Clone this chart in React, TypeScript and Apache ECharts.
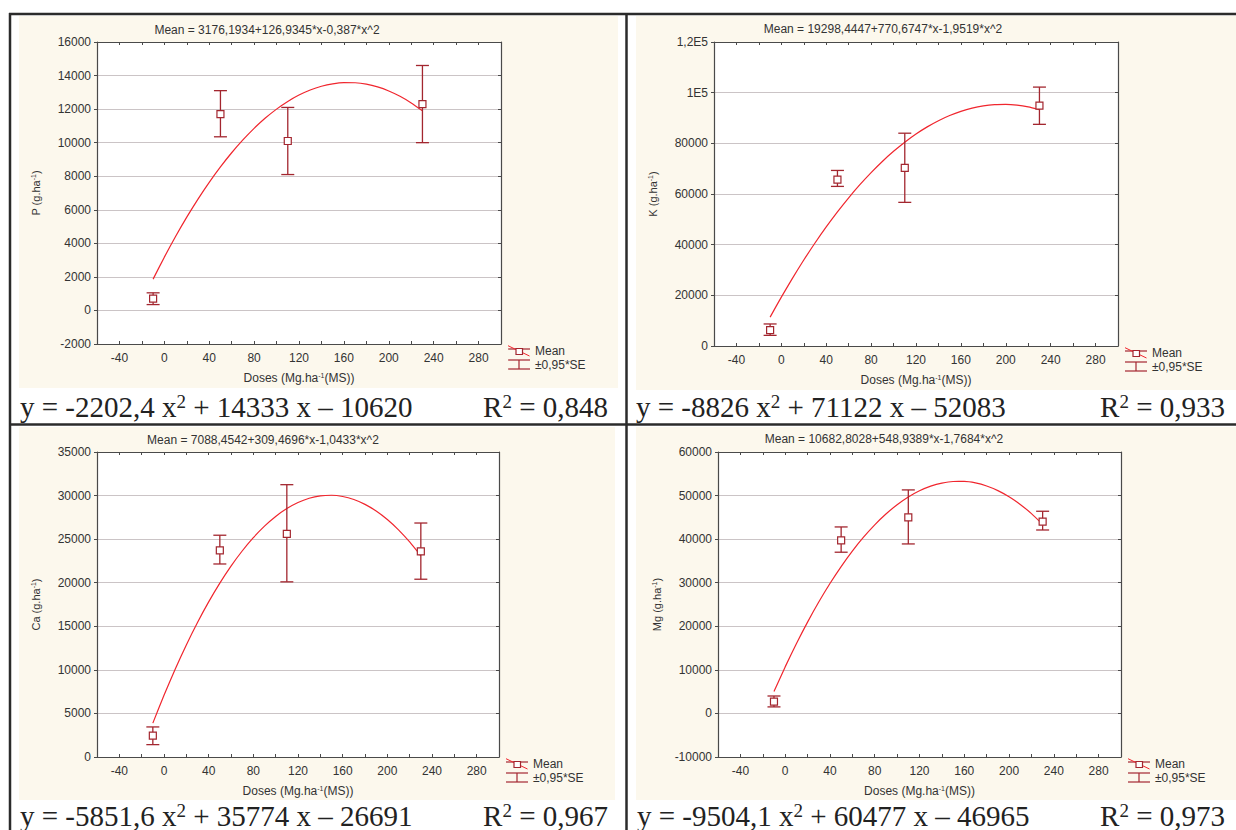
import React, { useEffect, useRef } from 'react';
import * as echarts from 'echarts';

// ---------- data ----------
const doses = [-10, 50, 110, 230];
const curveX = [-10, 0, 10, 20, 30, 40, 50, 60, 70, 80, 90, 100, 110, 120, 130, 140, 150, 160, 170, 180, 190, 200, 210, 220, 230];

const pMean = [700, 11700, 10100, 12300];
const pLow = [350, 10350, 8100, 10000];
const pHigh = [1050, 13100, 12100, 14600];
const pCurve = [1868, 3176, 4407, 5560, 6636, 7634, 8555, 9399, 10165, 10854, 11466, 12000, 12456, 12836, 13137, 13362, 13509, 13579, 13571, 13486, 13323, 13083, 12766, 12371, 11899];

const kMean = [6300, 65700, 70300, 94900];
const kLow = [4200, 63000, 56700, 87500];
const kHigh = [8700, 69300, 84000, 102200];
const kCurve = [11397, 19298, 26810, 33931, 40662, 47002, 52952, 58512, 63681, 68460, 72849, 76847, 80455, 83672, 86499, 88936, 90982, 92638, 93903, 94778, 95263, 95357, 95061, 94375, 93298];

const caMean = [2450, 23700, 25600, 23600];
const caLow = [1420, 22150, 20100, 20400];
const caHigh = [3450, 25450, 31250, 26850];
const caCurve = [3889, 7088, 10079, 12861, 15434, 17798, 19954, 21901, 23639, 25169, 26490, 27602, 28506, 29201, 29688, 29966, 30035, 29895, 29547, 28990, 28225, 27250, 26068, 24676, 23076];

const mgMean = [2700, 39700, 45000, 44000];
const mgLow = [1500, 37000, 38900, 42100];
const mgHigh = [4000, 42800, 51300, 46400];
const mgCurve = [5017, 10683, 15995, 20954, 25559, 29811, 33709, 37253, 40443, 43280, 45763, 47893, 49668, 51091, 52159, 52874, 53235, 53242, 52896, 52196, 51142, 49735, 47974, 45859, 43390];

const titles = [
  'Mean = 3176,1934+126,9345*x-0,387*x^2',
  'Mean = 19298,4447+770,6747*x-1,9519*x^2',
  'Mean = 7088,4542+309,4696*x-1,0433*x^2',
  'Mean = 10682,8028+548,9389*x-1,7684*x^2',
];
const yNames = ['P (g.ha{sup|-1})', 'K (g.ha{sup|-1})', 'Ca (g.ha{sup|-1})', 'Mg (g.ha{sup|-1})'];
const xName = 'Doses (Mg.ha{sup|-1}(MS))';
const equations = [
  'y = -2202,4 x{sup|2} + 14333 x – 10620',
  'y = -8826 x{sup|2} + 71122 x – 52083',
  'y = -5851,6 x{sup|2} + 35774 x – 26691',
  'y = -9504,1 x{sup|2} + 60477 x – 46965',
];
const r2Texts = ['R{sup|2} = 0,848', 'R{sup|2} = 0,933', 'R{sup|2} = 0,967', 'R{sup|2} = 0,973'];
const yRanges = [
  { min: -2000, max: 16000, interval: 2000 },
  { min: 0, max: 120000, interval: 20000 },
  { min: 0, max: 35000, interval: 5000 },
  { min: -10000, max: 60000, interval: 10000 },
];
const xRange = { min: -60, max: 300, interval: 20 };
const legendMean = 'Mean';
const legendSE = '±0,95*SE';

const means = [pMean, kMean, caMean, mgMean];
const lows = [pLow, kLow, caLow, mgLow];
const highs = [pHigh, kHigh, caHigh, mgHigh];
const curves = [pCurve, kCurve, caCurve, mgCurve];

// ---------- layout ----------
const layouts = [
  { left: 97, top: 42, width: 404, height: 302, titleX: 267, titleY: 29.5, eqX: 20, eqY: 392, r2X: 608, bg: [19, 16, 599, 372] },
  { left: 714, top: 42, width: 404, height: 304, titleX: 883, titleY: 29, eqX: 636, eqY: 392, r2X: 1225, bg: [636, 16, 600, 374] },
  { left: 97, top: 452, width: 402, height: 305, titleX: 263, titleY: 439.5, eqX: 20, eqY: 801, r2X: 608, bg: [19, 427, 596, 373] },
  { left: 718, top: 452, width: 403, height: 305, titleX: 884, titleY: 439, eqX: 637, eqY: 801, r2X: 1225, bg: [636, 427, 600, 373] },
];

const SANS = '"Liberation Sans", Arial, Helvetica, sans-serif';
const SERIF = '"Liberation Serif", "Times New Roman", serif';
const ERR = '#a3262f';
const CURVE = '#f0262e';
const BEIGE = '#fcf8ed';
const GRIDC = '#cbc4c6';
const AXIS = '#4a4a4a';
const TXT = '#333333';

function fmtY(i: number) {
  return (v: number) => {
    if (i === 1) {
      if (v === 100000) return '1E5';
      if (v === 120000) return '1,2E5';
    }
    return String(v);
  };
}

export default function App() {
  const ref = useRef<HTMLDivElement>(null);
  useEffect(() => {
    if (!ref.current) return;
    const chart = echarts.init(ref.current, undefined, { renderer: 'svg' });

    const grid: any[] = [];
    const xAxis: any[] = [];
    const yAxis: any[] = [];
    const series: any[] = [];
    const graphic: any[] = [];

    layouts.forEach((L, i) => {
      grid.push({
        left: L.left, top: L.top, width: L.width, height: L.height,
        show: true, backgroundColor: '#ffffff', borderWidth: 0,
        containLabel: false, outerBoundsMode: 'none',
      });
      xAxis.push({
        type: 'value', gridIndex: i, position: 'bottom',
        min: xRange.min, max: xRange.max, interval: xRange.interval,
        axisLine: { show: true, onZero: false, lineStyle: { color: AXIS, width: 1.2 } },
        axisTick: { show: true, inside: true, length: 3, lineStyle: { color: AXIS } },
        axisLabel: {
          show: true, margin: 8, color: TXT, fontSize: 12, fontFamily: SANS,
          formatter: (v: number) => (v % 40 === 0 ? String(v) : ''),
        },
        splitLine: { show: false },
        name: xName, nameLocation: 'middle', nameGap: 28,
        nameTextStyle: {
          color: TXT, fontSize: 12, fontFamily: SANS,
          rich: { sup: { fontSize: 7, fontFamily: SANS, color: TXT, verticalAlign: 'top' } },
        },
      });
      xAxis.push({
        type: 'value', gridIndex: i, position: 'top',
        min: xRange.min, max: xRange.max, interval: xRange.interval,
        axisLine: { show: true, onZero: false, lineStyle: { color: AXIS, width: 1.2 } },
        axisTick: { show: true, inside: true, length: 3, lineStyle: { color: AXIS } },
        axisLabel: { show: false },
        splitLine: { show: false },
      });
      const yr = yRanges[i];
      yAxis.push({
        type: 'value', gridIndex: i, position: 'left',
        min: yr.min, max: yr.max, interval: yr.interval,
        axisLine: { show: true, onZero: false, lineStyle: { color: AXIS, width: 1.2 } },
        axisTick: { show: true, inside: false, length: 3, lineStyle: { color: AXIS } },
        axisLabel: { show: true, margin: 6, color: TXT, fontSize: 12, fontFamily: SANS, formatter: fmtY(i) },
        splitLine: { show: true, lineStyle: { color: GRIDC, width: 1 } },
        name: yNames[i], nameLocation: 'middle', nameGap: 56, nameRotate: 90,
        nameTextStyle: {
          color: TXT, fontSize: 11, fontFamily: SANS,
          rich: { sup: { fontSize: 7, fontFamily: SANS, color: TXT, verticalAlign: 'top' } },
        },
      });
      yAxis.push({
        type: 'value', gridIndex: i, position: 'right',
        min: yr.min, max: yr.max, interval: yr.interval,
        axisLine: { show: true, onZero: false, lineStyle: { color: AXIS, width: 1.2 } },
        axisTick: { show: true, inside: true, length: 3, lineStyle: { color: AXIS } },
        axisLabel: { show: false },
        splitLine: { show: false },
      });

      const xi = i * 2;
      const yi = i * 2;
      series.push({
        type: 'line', xAxisIndex: xi, yAxisIndex: yi,
        data: curveX.map((x, j) => [x, curves[i][j]]),
        smooth: 0.2, showSymbol: false, silent: true, z: 2,
        lineStyle: { color: CURVE, width: 1.2 },
      });
      series.push({
        type: 'custom', xAxisIndex: xi, yAxisIndex: yi, silent: true, z: 3,
        data: doses.map((d, j) => [d, lows[i][j], highs[i][j]]),
        encode: { x: 0, y: [1, 2] },
        renderItem: (_p: any, api: any) => {
          const x = api.value(0);
          const lo = api.coord([x, api.value(1)]);
          const hi = api.coord([x, api.value(2)]);
          const hw = 6.5;
          const st = { stroke: ERR, lineWidth: 1.3 };
          return {
            type: 'group',
            children: [
              { type: 'line', shape: { x1: lo[0], y1: lo[1], x2: hi[0], y2: hi[1] }, style: st },
              { type: 'line', shape: { x1: lo[0] - hw, y1: lo[1], x2: lo[0] + hw, y2: lo[1] }, style: st },
              { type: 'line', shape: { x1: hi[0] - hw, y1: hi[1], x2: hi[0] + hw, y2: hi[1] }, style: st },
            ],
          };
        },
      });
      series.push({
        type: 'scatter', xAxisIndex: xi, yAxisIndex: yi, silent: true, z: 4,
        symbol: 'rect', symbolSize: 7,
        data: doses.map((d, j) => [d, means[i][j]]),
        itemStyle: { color: '#ffffff', borderColor: ERR, borderWidth: 1.2, opacity: 1 },
      });

      graphic.push({
        type: 'rect', z: -10, silent: true,
        shape: { x: L.bg[0], y: L.bg[1], width: L.bg[2], height: L.bg[3] },
        style: { fill: BEIGE },
      });
      graphic.push({
        type: 'text', x: L.titleX, y: L.titleY, silent: true, z: 5,
        style: { text: titles[i], fill: TXT, fontSize: 12, fontFamily: SANS, align: 'center', verticalAlign: 'middle' },
      });
      const eqRich = { sup: { fontSize: 19, fontFamily: SERIF, fill: '#222', verticalAlign: 'top' } };
      graphic.push({
        type: 'text', x: L.eqX, y: L.eqY, silent: true, z: 5,
        style: { text: equations[i], fill: '#222', fontSize: 29, fontFamily: SERIF, align: 'left', verticalAlign: 'top', rich: eqRich },
      });
      graphic.push({
        type: 'text', x: L.r2X, y: L.eqY, silent: true, z: 5,
        style: { text: r2Texts[i], fill: '#222', fontSize: 29, fontFamily: SERIF, align: 'right', verticalAlign: 'top', rich: eqRich },
      });
      const gx = L.left + L.width;
      const gy = L.top + L.height;
      const lw = { stroke: ERR, lineWidth: 1.2 };
      graphic.push(
        { type: 'line', silent: true, z: 5, shape: { x1: gx + 7, y1: gy + 5, x2: gx + 29, y2: gy + 5 }, style: lw },
        { type: 'line', silent: true, z: 5, shape: { x1: gx + 7, y1: gy + 1.7, x2: gx + 28.5, y2: gy + 12 }, style: { stroke: CURVE, lineWidth: 1 } },
        { type: 'rect', silent: true, z: 6, shape: { x: gx + 15, y: gy + 4.5, width: 6.5, height: 6 }, style: { fill: '#ffffff', stroke: ERR, lineWidth: 1.2 } },
        { type: 'line', silent: true, z: 5, shape: { x1: gx + 7, y1: gy + 16, x2: gx + 29, y2: gy + 16 }, style: lw },
        { type: 'line', silent: true, z: 5, shape: { x1: gx + 18, y1: gy + 16, x2: gx + 18, y2: gy + 25 }, style: lw },
        { type: 'line', silent: true, z: 5, shape: { x1: gx + 7, y1: gy + 25, x2: gx + 29, y2: gy + 25 }, style: lw },
        {
          type: 'text', x: gx + 34, y: gy + 7, silent: true, z: 5,
          style: { text: legendMean, fill: TXT, fontSize: 12, fontFamily: SANS, align: 'left', verticalAlign: 'middle' },
        },
        {
          type: 'text', x: gx + 34, y: gy + 20.5, silent: true, z: 5,
          style: { text: legendSE, fill: TXT, fontSize: 12, fontFamily: SANS, align: 'left', verticalAlign: 'middle' },
        },
      );
    });

    const frame = { stroke: '#2b2b2b', lineWidth: 2.5 };
    graphic.push(
      { type: 'line', silent: true, z: 20, shape: { x1: 9, y1: 14, x2: 1236, y2: 14 }, style: frame },
      { type: 'line', silent: true, z: 20, shape: { x1: 10, y1: 13, x2: 10, y2: 830 }, style: frame },
      { type: 'line', silent: true, z: 20, shape: { x1: 626.5, y1: 13, x2: 626.5, y2: 830 }, style: frame },
      { type: 'line', silent: true, z: 20, shape: { x1: 9, y1: 424.5, x2: 1236, y2: 424.5 }, style: frame },
    );

    chart.setOption({
      animation: false,
      backgroundColor: '#ffffff',
      grid, xAxis, yAxis, series, graphic,
    });
    return () => chart.dispose();
  }, []);

  return (
    <div
      ref={ref}
      style={{ position: 'fixed', left: 0, top: 0, width: 1236, height: 830, background: '#fff' }}
    />
  );
}
